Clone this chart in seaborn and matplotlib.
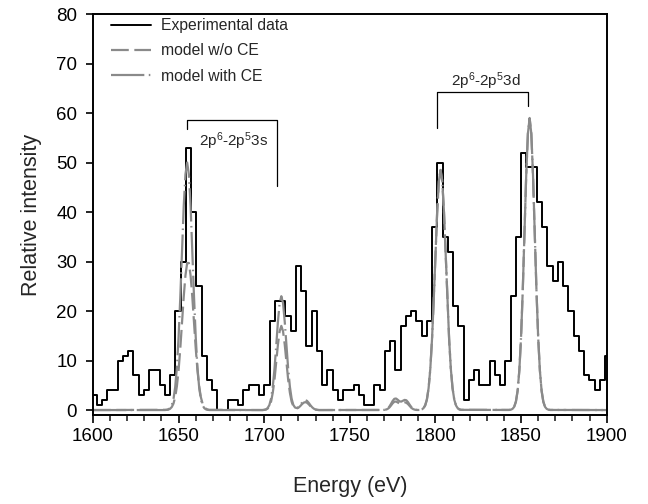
import numpy as np
import pandas as pd
import matplotlib
matplotlib.use("Agg")
import matplotlib.pyplot as plt
from matplotlib.ticker import MultipleLocator
import seaborn as sns

# ---------------- data ----------------
# Experimental spectrum (histogram, uniform bins)
hist_start = 1599.15
hist_bin_width = 3.06
hist_counts = [3, 1, 2, 4, 4, 10, 11, 12, 7, 3,
               4, 8, 8, 5, 3, 7, 20, 30, 53, 40,
               25, 11, 6, 4, 0, 0, 2, 2, 1, 4,
               5, 5, 3, 5, 18, 22, 22, 19, 16, 29,
               24, 13, 20, 12, 5, 8, 4, 2, 4, 4,
               5, 3, 1, 1, 5, 4, 12, 14, 8, 17,
               19, 20, 18, 15, 18, 37, 50, 35, 32, 21,
               17, 2, 6, 8, 5, 5, 10, 7, 5, 10,
               23, 35, 52, 49, 49, 42, 37, 29, 26, 30,
               25, 20, 15, 12, 7, 6, 4, 6, 11]

# Model curves, sampled in the regions where they are non-zero
energy_3s_a = list(range(1642, 1669))
with_ce_3s_a = [0.0, 0.04, 0.13, 0.38, 0.96, 2.2, 4.6, 8.6, 14.8, 22.9, 32.2, 41.2, 47.6, 50.0,
                47.6, 41.2, 32.2, 22.9, 14.8, 8.6, 4.6, 2.2, 0.96, 0.38, 0.13, 0.04, 0.0]
wo_ce_3s_a = [0.02, 0.04, 0.1, 0.25, 0.6, 1.3, 2.6, 4.8, 8.1, 12.5, 17.7, 22.9, 27.2, 29.7,
              29.7, 27.2, 22.9, 17.7, 12.5, 8.1, 4.8, 2.6, 1.3, 0.6, 0.25, 0.1, 0.04]

energy_3s_b = list(range(1698, 1734))
with_ce_3s_b = [0, 0, 0.04, 0.13, 0.4, 1.0, 2.3, 4.7, 8.3, 12.9, 17.8, 21.6, 23.0, 21.6, 17.8,
                12.9, 8.3, 4.7, 2.3, 1.04, 0.51, 0.4, 0.6, 0.97, 1.45, 1.85, 2.0, 1.85, 1.45,
                0.97, 0.56, 0.27, 0.11, 0.04, 0.0, 0.0]
wo_ce_3s_b = [0, 0, 0.03, 0.1, 0.29, 0.75, 1.7, 3.5, 6.1, 9.6, 13.2, 15.9, 17.0, 15.9, 13.2,
              9.6, 6.1, 3.5, 1.7, 0.78, 0.38, 0.32, 0.47, 0.78, 1.16, 1.48, 1.6, 1.48, 1.16,
              0.78, 0.44, 0.22, 0.09, 0.03, 0.0, 0.0]

energy_3d_a = list(range(1767, 1816))
with_ce_3d_a = [0, 0, 0.01, 0.03, 0.10, 0.28, 0.65, 1.21, 1.83, 2.27,
                2.33, 2.07, 1.77, 1.70, 1.87, 2.05, 1.98, 1.59, 1.05, 0.56,
                0.25, 0.09, 0.03, 0.01, 0.04, 0.13, 0.37, 0.93, 2.1, 4.4,
                8.3, 14.3, 22.2, 31.2, 39.9, 46.2, 48.5, 46.2, 39.9, 31.2,
                22.2, 14.3, 8.3, 4.4, 2.1, 0.93, 0.37, 0.13, 0.04]
wo_ce_3d_a = [0, 0, 0.005, 0.02, 0.08, 0.21, 0.48, 0.89, 1.35, 1.68,
              1.72, 1.53, 1.31, 1.27, 1.40, 1.54, 1.48, 1.19, 0.79, 0.42,
              0.19, 0.07, 0.02, 0.01, 0.04, 0.13, 0.37, 0.93, 2.1, 4.4,
              8.3, 14.3, 22.2, 31.2, 39.9, 46.2, 48.5, 46.2, 39.9, 31.2,
              22.2, 14.3, 8.3, 4.4, 2.1, 0.93, 0.37, 0.13, 0.04]

energy_3d_b = list(range(1843, 1868))
with_ce_3d_b = [0.02, 0.07, 0.23, 0.65, 1.7, 3.9, 8.0, 14.7, 24.2, 35.8, 47.3, 55.8, 59.0,
                55.8, 47.3, 35.8, 24.2, 14.7, 8.0, 3.9, 1.7, 0.65, 0.23, 0.07, 0.02]
wo_ce_3d_b = [0.02, 0.07, 0.23, 0.65, 1.7, 3.9, 8.0, 14.7, 24.2, 35.8, 47.3, 55.8, 59.0,
              55.8, 47.3, 35.8, 24.2, 14.7, 8.0, 3.9, 1.7, 0.65, 0.23, 0.07, 0.02]

series_labels = ["Experimental data", "model w/o CE", "model with CE"]
x_ticks = [1600, 1650, 1700, 1750, 1800, 1850, 1900]
y_ticks = [0, 10, 20, 30, 40, 50, 60, 70, 80]

# ---------------- style ----------------
sns.set_style("ticks")
plt.rcParams["font.family"] = ["Liberation Sans", "DejaVu Sans"]
plt.rcParams["mathtext.fontset"] = "custom"
plt.rcParams["mathtext.rm"] = "Liberation Sans"
plt.rcParams["mathtext.it"] = "Liberation Sans:italic"
plt.rcParams["mathtext.default"] = "regular"

GRAY = "#8a8a8a"

fig = plt.figure(figsize=(6.48, 5.04), dpi=100)
ax = fig.add_axes([0.1435, 0.1766, 0.7927, 0.7956])

# experimental histogram (steps)
edges = hist_start + hist_bin_width * np.arange(len(hist_counts) + 1)
df_hist = pd.DataFrame({"energy": edges, "intensity": hist_counts + [hist_counts[-1]]})
sns.lineplot(data=df_hist, x="energy", y="intensity", drawstyle="steps-post",
             color="black", lw=1.4, ax=ax, label=series_labels[0])

# model curves
model_energy = [1600] + energy_3s_a + energy_3s_b + energy_3d_a + energy_3d_b + [1900]
model_wo = [0] + wo_ce_3s_a + wo_ce_3s_b + wo_ce_3d_a + wo_ce_3d_b + [0]
model_with = [0] + with_ce_3s_a + with_ce_3s_b + with_ce_3d_a + with_ce_3d_b + [0]
df_model = pd.DataFrame({"energy": model_energy, "wo": model_wo, "with": model_with})

sns.lineplot(data=df_model, x="energy", y="wo", color=GRAY, lw=1.6,
             linestyle=(0, (8, 2.5)), ax=ax, label=series_labels[1])
sns.lineplot(data=df_model, x="energy", y="with", color=GRAY, lw=1.6,
             linestyle=(0, (15, 2, 0.7, 2)), ax=ax, label=series_labels[2])

# axes
ax.set_xlim(1600, 1900)
ax.set_ylim(-1, 80)
ax.set_xticks(x_ticks)
ax.set_yticks(y_ticks)
ax.xaxis.set_minor_locator(MultipleLocator(10))
for side in ["top", "right", "bottom", "left"]:
    ax.spines[side].set_visible(True)
    ax.spines[side].set_linewidth(1.4)
    ax.spines[side].set_color("black")
ax.tick_params(axis="x", which="major", direction="out", length=6, width=1.2,
               labelsize=13.5, pad=3.5, colors="black")
ax.tick_params(axis="x", which="minor", direction="out", length=4, width=1.2)
ax.tick_params(axis="y", which="major", direction="out", length=5, width=1.2,
               labelsize=13.5, pad=6.5, colors="black")
ax.set_xlabel("Energy (eV)", fontsize=15.5)
ax.set_ylabel("Relative intensity", fontsize=15.5)
ax.xaxis.set_label_coords(0.5, -0.153)
ax.yaxis.set_label_coords(-0.1, 0.5)

# brackets and transition labels
br_kw = dict(color="black", lw=0.9)
ax.plot([1655.1, 1655.1, 1707.7, 1707.7], [56.7, 58.6, 58.6, 45.3], **br_kw)
ax.text(1682.4, 54.3, r"2p$^6$-2p$^5$3s", ha="center", va="center", fontsize=11)
ax.plot([1801.1, 1801.1, 1853.9, 1853.9], [57.0, 64.3, 64.3, 61.4], **br_kw)
ax.text(1829.3, 66.5, r"2p$^6$-2p$^5$3d", ha="center", va="center", fontsize=11)

ax.legend(loc="upper left", bbox_to_anchor=(0.036, 0.99), frameon=False,
          fontsize=11.3, handlelength=2.5, handletextpad=0.65, labelspacing=0.66,
          borderpad=0, borderaxespad=0)

fig.savefig("out.png", dpi=100)
